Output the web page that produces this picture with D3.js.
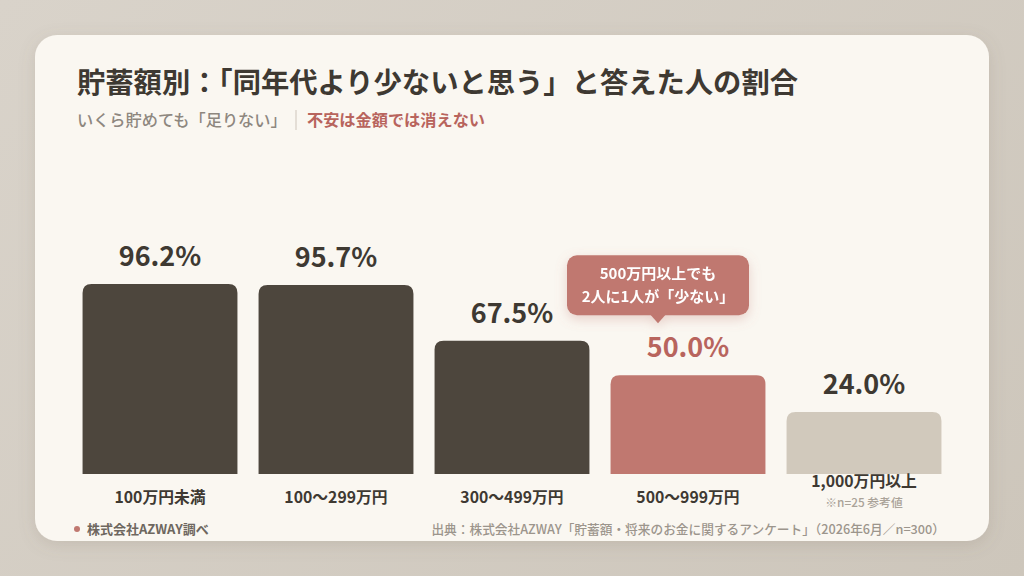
<!DOCTYPE html>
<html>
<head>
<meta charset="utf-8">
<script src="https://cdn.jsdelivr.net/npm/d3@7"></script>
<style>
  html, body { margin: 0; padding: 0; }
  body { width: 1024px; height: 576px; overflow: hidden; background: linear-gradient(135deg, #d9d3ca, #cdc6bb); }
  svg { display: block; font-family: "Noto Sans CJK JP", "Noto Sans", sans-serif; }
</style>
</head>
<body>
<svg id="chart" width="1024" height="576"></svg>
<script>
// data
const categories = ['100万円未満', '100〜299万円', '300〜499万円', '500〜999万円', '1,000万円以上']
const values = [96.2, 95.7, 67.5, 50.0, 24.0]
const notes = ['', '', '', '', '※n=25 参考値']
const highlightIndex = 3
const mutedIndex = 4
const calloutLines = ['500万円以上でも', '2人に1人が「少ない」']

const colors = {
  bar: '#4d463d',
  highlight: '#c07870',
  muted: '#d1c9bc',
  text: '#3e3932',
  accent: '#b8645d',
  grey: '#8e877f',
  card: '#faf7f1'
}

const svg = d3.select('#chart')
const defs = svg.append('defs')

const shadow = defs.append('filter').attr('id', 'shadow')
  .attr('x', '-10%').attr('y', '-10%').attr('width', '120%').attr('height', '130%')
shadow.append('feDropShadow').attr('dx', 0).attr('dy', 4).attr('stdDeviation', 8)
  .attr('flood-color', '#7a6a58').attr('flood-opacity', 0.18)

const calloutShadow = defs.append('filter').attr('id', 'callout-shadow')
  .attr('x', '-20%').attr('y', '-30%').attr('width', '140%').attr('height', '170%')
calloutShadow.append('feDropShadow').attr('dx', 0).attr('dy', 4).attr('stdDeviation', 6)
  .attr('flood-color', '#c07870').attr('flood-opacity', 0.3)

// card
svg.append('rect')
  .attr('x', 35).attr('y', 35).attr('width', 954).attr('height', 506)
  .attr('rx', 22)
  .attr('fill', colors.card)
  .attr('filter', 'url(#shadow)')

// title
svg.append('text')
  .attr('x', 77).attr('y', 93)
  .attr('font-size', 28.3).attr('font-weight', 700)
  .attr('fill', colors.text)
  .text('貯蓄額別：「同年代より少ないと思う」と答えた人の割合')

const sub = svg.append('g').attr('transform', 'translate(77, 126)')
sub.append('text')
  .attr('font-size', 16.2).attr('font-weight', 500)
  .attr('fill', colors.grey)
  .text('いくら貯めても「足りない」')
sub.append('line')
  .attr('x1', 219).attr('x2', 219).attr('y1', -16).attr('y2', 4)
  .attr('stroke', '#ddd6cc').attr('stroke-width', 1.5)
sub.append('text')
  .attr('x', 230)
  .attr('font-size', 16.2).attr('font-weight', 700)
  .attr('fill', colors.accent)
  .text('不安は金額では消えない')

// chart area
const margin = {left: 82, right: 83, top: 150, bottom: 102}
const baseline = 576 - margin.bottom
const x = d3.scaleBand()
  .domain(categories)
  .range([margin.left - 10, 1024 - margin.right + 11])
  .paddingInner(0.12)
  .paddingOuter(0.06)

const y = d3.scaleLinear().domain([0, 100]).range([baseline, baseline - 197.5])
const minBarHeight = 62

const barTop = (v) => Math.min(y(v), baseline - minBarHeight)
const barFill = (i) => i === highlightIndex ? colors.highlight : (i === mutedIndex ? colors.muted : colors.bar)

function topRoundedRect(x0, y0, w, h, r) {
  return `M${x0},${y0 + h}V${y0 + r}Q${x0},${y0} ${x0 + r},${y0}H${x0 + w - r}Q${x0 + w},${y0} ${x0 + w},${y0 + r}V${y0 + h}Z`
}

const g = svg.append('g')
const data = categories.map((c, i) => ({category: c, value: values[i], note: notes[i], i: i}))

g.selectAll('.bar')
  .data(data)
  .enter()
  .append('path')
  .attr('class', 'bar')
  .attr('d', (d) => topRoundedRect(x(d.category), barTop(d.value), x.bandwidth(), baseline - barTop(d.value), 9))
  .attr('fill', (d) => barFill(d.i))

g.selectAll('.value')
  .data(data)
  .enter()
  .append('text')
  .attr('class', 'value')
  .attr('x', (d) => x(d.category) + x.bandwidth() / 2)
  .attr('y', (d) => barTop(d.value) - 18)
  .attr('text-anchor', 'middle')
  .attr('font-size', 27).attr('font-weight', 700)
  .attr('fill', (d) => d.i === highlightIndex ? colors.accent : colors.text)
  .text((d) => d3.format('.1f')(d.value) + '%')

g.selectAll('.cat')
  .data(data)
  .enter()
  .append('text')
  .attr('class', 'cat')
  .attr('x', (d) => x(d.category) + x.bandwidth() / 2)
  .attr('y', (d) => d.note ? baseline + 13 : baseline + 29)
  .attr('text-anchor', 'middle')
  .attr('font-size', 15.8).attr('font-weight', 600)
  .attr('fill', colors.text)
  .text((d) => d.category)

g.selectAll('.note')
  .data(data.filter((d) => d.note))
  .enter()
  .append('text')
  .attr('class', 'note')
  .attr('x', (d) => x(d.category) + x.bandwidth() / 2)
  .attr('y', baseline + 32.5)
  .attr('text-anchor', 'middle')
  .attr('font-size', 11.8).attr('font-weight', 500)
  .attr('fill', '#aaa399')
  .text((d) => d.note)

// callout above highlight bar
const hd = data[highlightIndex]
const cx = x(hd.category) + x.bandwidth() / 2 - 30
const cw = 182, ch = 60
const cy = barTop(hd.value) - 60 - ch
const callout = g.append('g').attr('filter', 'url(#callout-shadow)')
callout.append('rect')
  .attr('x', cx - cw / 2).attr('y', cy)
  .attr('width', cw).attr('height', ch)
  .attr('rx', 10)
  .attr('fill', colors.highlight)
callout.append('path')
  .attr('d', `M${cx - 8},${cy + ch - 1}L${cx},${cy + ch + 8}L${cx + 8},${cy + ch - 1}Z`)
  .attr('fill', colors.highlight)
callout.selectAll('text')
  .data(calloutLines)
  .enter()
  .append('text')
  .attr('x', cx)
  .attr('y', (d, i) => cy + 24 + i * 23)
  .attr('text-anchor', 'middle')
  .attr('font-size', 15).attr('font-weight', 700)
  .attr('fill', '#fff')
  .text((d) => d)

// footer
svg.append('circle').attr('cx', 77).attr('cy', 529).attr('r', 3).attr('fill', colors.highlight)
svg.append('text')
  .attr('x', 87).attr('y', 533.5)
  .attr('font-size', 13).attr('font-weight', 600)
  .attr('fill', '#6e675f')
  .text('株式会社AZWAY調べ')
svg.append('text')
  .attr('x', 945).attr('y', 533.5)
  .attr('text-anchor', 'end')
  .attr('font-size', 12.7).attr('font-weight', 500)
  .attr('fill', '#9c958c')
  .text('出典：株式会社AZWAY「貯蓄額・将来のお金に関するアンケート」（2026年6月／n=300）')
</script>
</body>
</html>
